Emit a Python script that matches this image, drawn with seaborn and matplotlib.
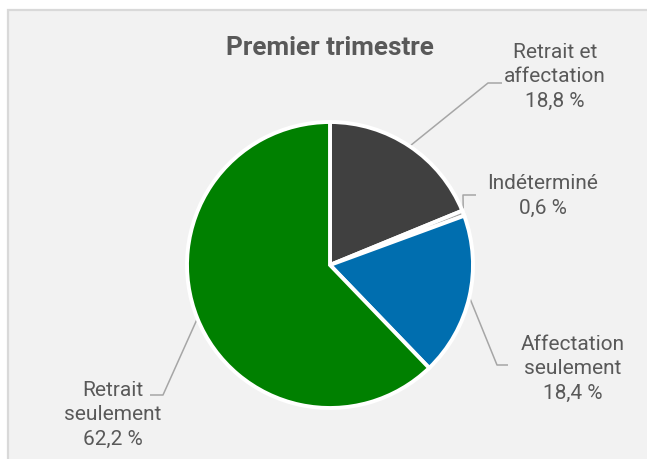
import numpy as np
import matplotlib
matplotlib.use("Agg")
import matplotlib.pyplot as plt
import seaborn as sns
from matplotlib.patches import Rectangle

# data
categories = ["Retrait et\naffectation", "Indéterminé", "Affectation\nseulement", "Retrait\nseulement"]
shares = [18.8, 0.6, 18.4, 62.2]
colors = ["#404040", "#a5a5a5", "#006eaf", "#008000"]
title = "Premier trimestre"

W, H = 647, 459

sns.set_theme(style="white")
plt.rcParams["font.family"] = ["Roboto", "DejaVu Sans"]

fig = plt.figure(figsize=(W / 100, H / 100), dpi=100, facecolor="white")
ax = fig.add_axes([0, 0, 1, 1])
ax.set_facecolor("none")

# grey chart-area box (runs off the right and bottom edges)
ax.add_patch(Rectangle((8, -20), W, H - 10 + 20, facecolor="#f2f2f2", edgecolor="#d9d9d9",
                       linewidth=1.6, zorder=-10, clip_on=False))

cx, cy, r = 330, H - 265, 143
wedges, _ = ax.pie(shares, colors=colors, startangle=90, counterclock=False,
                   center=(cx, cy), radius=r,
                   wedgeprops=dict(edgecolor="white", linewidth=2.8))
ax.set_xlim(0, W)
ax.set_ylim(0, H)
ax.set_aspect("equal")
ax.axis("off")

# leader lines: (elbow, end) and label centre, in pixel coords from top-left
leaders = [((488, 83), (502, 83)), ((463, 195), (476, 195)),
           ((497, 365), (508, 365)), ((163, 395), (150, 395))]
label_pos = [(555, 77), (543, 196), (573, 369), (113, 415)]

for w, cat, val, (elb, end), (tx, ty) in zip(wedges, categories, shares, leaders, label_pos):
    mid = np.deg2rad((w.theta1 + w.theta2) / 2)
    ex, ey = cx + r * np.cos(mid), cy + r * np.sin(mid)
    ax.plot([ex, elb[0], end[0]], [ey, H - elb[1], H - end[1]], color="#a6a6a6", lw=1.1,
            solid_capstyle="butt", zorder=0.5)
    txt = f"{cat}\n{val:.1f} %".replace(".", ",")
    ax.text(tx, H - ty, txt, ha="center", va="center", fontsize=15, color="#595959",
            linespacing=1.36)

ax.text(330, H - 48, title, ha="center", va="center", fontsize=18.8, fontweight="bold", color="#595959")

fig.savefig("out.png", dpi=100, facecolor="white")
